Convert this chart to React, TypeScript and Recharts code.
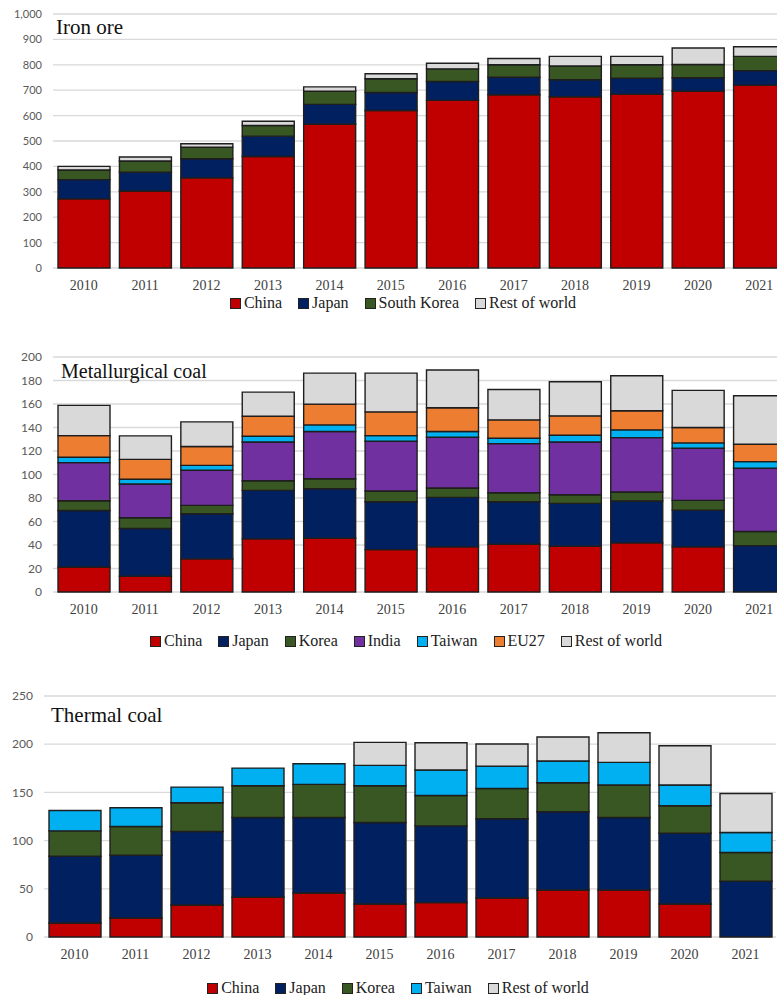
import React from "react";
import { BarChart, Bar, XAxis, YAxis, CartesianGrid } from "recharts";

// ---------- data ----------
const years = ["2010", "2011", "2012", "2013", "2014", "2015", "2016", "2017", "2018", "2019", "2020", "2021"];

// Iron ore (segment sizes)
const ironChina = [272, 303, 355, 439, 566, 620, 660, 682, 674, 684, 696, 720];
const ironJapan = [76, 74, 75, 80, 78, 71, 74, 69, 67, 63, 53, 57];
const ironKorea = [38, 44, 46, 42, 52, 54, 50, 49, 54, 53, 52, 56];
const ironRow = [14, 16, 13, 17, 17, 20, 22, 25, 38, 33, 65, 38];
const ironTicks = [0, 100, 200, 300, 400, 500, 600, 700, 800, 900, 1000];

// Metallurgical coal
const metChina = [21.3, 13.4, 28.2, 45.2, 45.8, 36.1, 38.4, 40.7, 39, 41.8, 38.4, 0];
const metJapan = [48.1, 40.7, 38.4, 41.3, 42.1, 40.7, 42.1, 36.1, 36.4, 35.6, 31.3, 39.5];
const metKorea = [8.3, 9.1, 7.1, 8.2, 8.5, 9.1, 8, 7.7, 7.4, 7.7, 8.3, 12];
const metIndia = [32.4, 28.7, 29.9, 33, 40.2, 42.4, 43.2, 41.8, 44.9, 46.3, 44.3, 53.8];
const metTaiwan = [4.6, 4.0, 4.2, 4.9, 5.6, 4.8, 4.9, 4.6, 5.7, 6.6, 4.6, 5.7];
const metEu = [18.4, 17, 16, 17, 17.7, 20.2, 20.2, 15.6, 16.5, 16.2, 13.1, 14.7];
const metRow = [25.7, 20, 21, 20.5, 26.4, 33, 32.1, 25.9, 29.1, 29.9, 31.6, 41.3];
const metTicks = [0, 20, 40, 60, 80, 100, 120, 140, 160, 180, 200];

// Thermal coal
const thChina = [14.5, 19.7, 33.2, 41.2, 45.7, 34.3, 35.7, 40.5, 48.8, 48.8, 34.3, 0];
const thJapan = [69.3, 65.1, 76.2, 82.8, 78.3, 84.5, 79.6, 82.1, 81.1, 75.2, 73.4, 57.8];
const thKorea = [26.3, 29.8, 29.8, 32.9, 34.3, 38.1, 31.5, 31.5, 30.1, 33.6, 28.4, 29.8];
const thTaiwan = [21.1, 19.4, 16.3, 18.3, 21.4, 21.1, 26.4, 23.2, 22.5, 23.5, 21.5, 20.8];
const thRow = [0, 0, 0, 0, 0, 23.9, 28.3, 22.9, 24.9, 30.8, 40.8, 40.5];
const thTicks = [0, 50, 100, 150, 200, 250];

// ---------- styles ----------
const C = {
  china: "#C00000",
  japan: "#002060",
  korea: "#385723",
  india: "#7030A0",
  taiwan: "#00B0F0",
  eu: "#ED7D31",
  row: "#D9D9D9",
};

type Series = { key: string; name: string; color: string; values: number[] };

const buildData = (series: Series[]) =>
  years.map((y, i) => {
    const row: Record<string, any> = { year: y };
    series.forEach((s) => (row[s.key] = s.values[i]));
    return row;
  });

const ironSeries: Series[] = [
  { key: "china", name: "China", color: C.china, values: ironChina },
  { key: "japan", name: "Japan", color: C.japan, values: ironJapan },
  { key: "korea", name: "South Korea", color: C.korea, values: ironKorea },
  { key: "row", name: "Rest of world", color: C.row, values: ironRow },
];
const metSeries: Series[] = [
  { key: "china", name: "China", color: C.china, values: metChina },
  { key: "japan", name: "Japan", color: C.japan, values: metJapan },
  { key: "korea", name: "Korea", color: C.korea, values: metKorea },
  { key: "india", name: "India", color: C.india, values: metIndia },
  { key: "taiwan", name: "Taiwan", color: C.taiwan, values: metTaiwan },
  { key: "eu", name: "EU27", color: C.eu, values: metEu },
  { key: "row", name: "Rest of world", color: C.row, values: metRow },
];
const thSeries: Series[] = [
  { key: "china", name: "China", color: C.china, values: thChina },
  { key: "japan", name: "Japan", color: C.japan, values: thJapan },
  { key: "korea", name: "Korea", color: C.korea, values: thKorea },
  { key: "taiwan", name: "Taiwan", color: C.taiwan, values: thTaiwan },
  { key: "row", name: "Rest of world", color: C.row, values: thRow },
];

const SERIF = "'Liberation Serif', 'Times New Roman', serif";
const SANS = "Lato, 'Liberation Sans', sans-serif";

type ChartProps = {
  top: number;
  width: number;
  height: number;
  marginTop: number;
  marginRight: number;
  yWidth: number;
  ticks: number[];
  yFont: number;
  series: Series[];
  title: string;
  titleLeft: number;
  titleBaseline: number;
  titleSize: number;
  legendCenterX: number;
  legendCenterY: number;
};

function StackChart(p: ChartProps) {
  const data = buildData(p.series);
  const max = p.ticks[p.ticks.length - 1];
  return (
    <div style={{ position: "absolute", left: 0, top: p.top, width: p.width, height: p.height }}>
      <BarChart
        width={p.width}
        height={p.height}
        data={data}
        margin={{ top: p.marginTop, right: p.marginRight, left: 0, bottom: 0 }}
        barSize={52}
      >
        <CartesianGrid vertical={false} stroke="#D9D9D9" strokeWidth={1.3} />
        <XAxis
          dataKey="year"
          axisLine={false}
          tickLine={false}
          height={30}
          tickMargin={6}
          tick={{ fontFamily: SERIF, fontSize: 14, fill: "#404040" }}
          interval={0}
        />
        <YAxis
          width={p.yWidth}
          domain={[0, max]}
          ticks={p.ticks}
          axisLine={false}
          tickLine={false}
          tickMargin={5}
          tick={{ fontFamily: SANS, fontSize: p.yFont, fill: "#595959" }}
          tickFormatter={(v: number) => v.toLocaleString("en-US")}
        />
        {p.series.map((s) => (
          <Bar
            key={s.key}
            dataKey={s.key}
            name={s.name}
            stackId="a"
            fill={s.color}
            stroke="#1E1E1E"
            strokeWidth={1.4}
            isAnimationActive={false}
          />
        ))}
      </BarChart>
      <div
        style={{
          position: "absolute",
          left: p.titleLeft,
          top: p.titleBaseline - p.top - p.titleSize * 0.84,
          fontFamily: SERIF,
          fontSize: p.titleSize,
          lineHeight: `${p.titleSize}px`,
          color: "#111",
          whiteSpace: "nowrap",
        }}
      >
        {p.title}
      </div>
      <div
        style={{
          position: "absolute",
          left: p.legendCenterX - 350,
          width: 700,
          top: p.legendCenterY - p.top - 10,
          height: 20,
          display: "flex",
          justifyContent: "center",
          alignItems: "center",
          fontFamily: SERIF,
          fontSize: 16,
          color: "#222",
          whiteSpace: "nowrap",
        }}
      >
        {p.series.map((s) => (
          <div key={s.key} style={{ display: "flex", alignItems: "center", marginRight: 16 }}>
            <span
              style={{
                display: "inline-block",
                width: 9,
                height: 9,
                background: s.color,
                border: "1px solid #222",
                marginRight: 3,
              }}
            />
            <span>{s.name}</span>
          </div>
        ))}
      </div>
    </div>
  );
}

export default function App() {
  return (
    <div
      style={{
        position: "fixed",
        left: 0,
        top: 0,
        width: 777,
        height: 995,
        overflow: "hidden",
        background: "#fff",
      }}
    >
      <StackChart
        top={0}
        width={800}
        height={298}
        marginTop={14}
        marginRight={10}
        yWidth={53}
        ticks={ironTicks}
        yFont={11}
        series={ironSeries}
        title="Iron ore"
        titleLeft={56}
        titleBaseline={35}
        titleSize={21}
        legendCenterX={411}
        legendCenterY={303}
      />
      <StackChart
        top={320}
        width={800}
        height={302}
        marginTop={37}
        marginRight={10}
        yWidth={53}
        ticks={metTicks}
        yFont={12}
        series={metSeries}
        title="Metallurgical coal"
        titleLeft={61}
        titleBaseline={378}
        titleSize={20}
        legendCenterX={414}
        legendCenterY={641}
      />
      <StackChart
        top={660}
        width={776}
        height={307}
        marginTop={36}
        marginRight={0}
        yWidth={44}
        ticks={thTicks}
        yFont={12}
        series={thSeries}
        title="Thermal coal"
        titleLeft={51}
        titleBaseline={722.5}
        titleSize={21}
        legendCenterX={406}
        legendCenterY={988}
      />
    </div>
  );
}
